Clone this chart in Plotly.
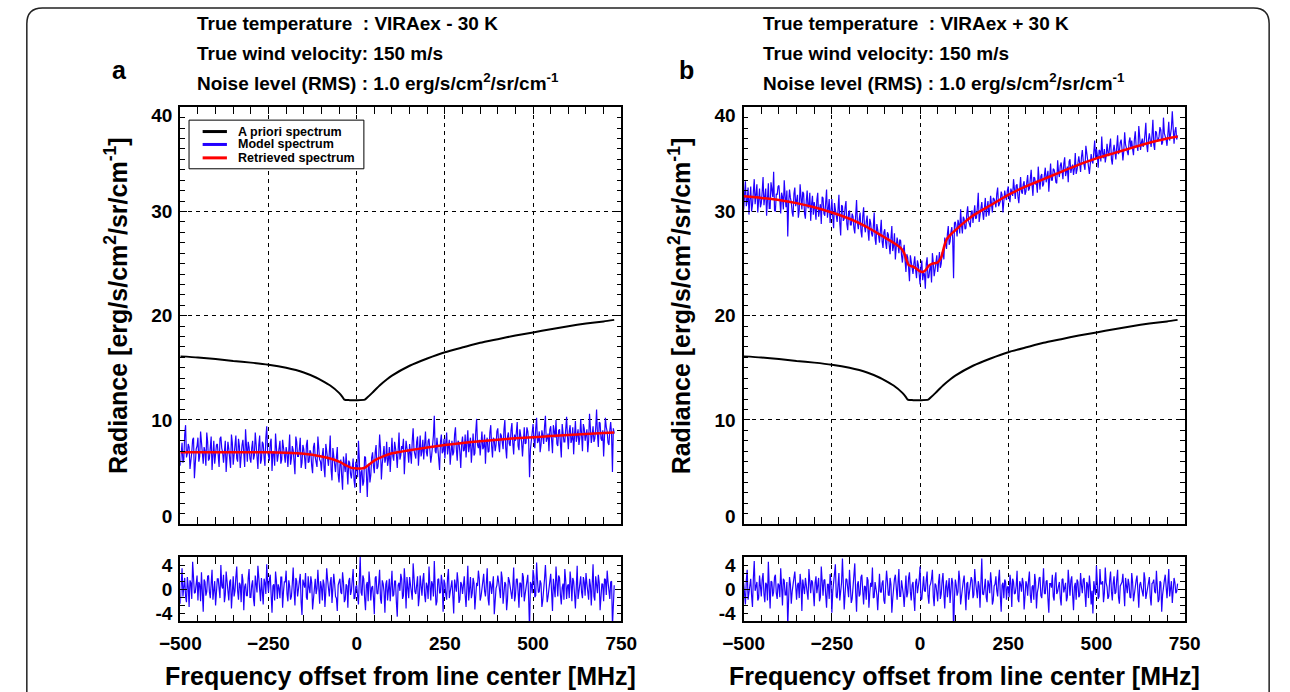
import plotly.graph_objects as go

# ---------------- data ----------------
freq_even = list(range(-500, 731, 5))                 # -500 ... 730 MHz
freq_odd = [f + 2.5 for f in range(-500, 730, 5)]     # -497.5 ... 727.5 MHz

apriori_x = [-500, -450, -400, -350, -300, -250, -200, -150, -114, -100, -75, -50, -40, -35, -20, 0, 23, 30, 44,
             65, 86, 100, 150, 200, 250, 305, 350, 400, 450, 500, 550, 600, 650, 700, 730]
apriori_y = [16.1, 16.0, 15.85, 15.65, 15.5, 15.3, 15.0, 14.55, 14.05, 13.8, 13.3, 12.6, 12.2, 11.95, 11.9, 11.9,
             11.95, 12.15, 12.6, 13.3, 13.9, 14.25, 15.2, 15.9, 16.5, 17.0, 17.4, 17.75, 18.1, 18.4, 18.7, 19.0,
             19.25, 19.45, 19.6]

retrieved_a_x = [-500, -400, -300, -250, -200, -150, -100, -75, -50, -30, -15, 0, 15, 25, 40, 50, 75, 100, 150,
                 200, 250, 300, 350, 400, 450, 500, 550, 600, 650, 700, 730]
retrieved_a_y = [6.9, 6.9, 6.9, 6.9, 6.85, 6.75, 6.5, 6.3, 6.0, 5.65, 5.4, 5.35, 5.35, 5.45, 5.85, 6.1, 6.5, 6.8,
                 7.1, 7.35, 7.6, 7.8, 7.95, 8.1, 8.25, 8.35, 8.45, 8.55, 8.65, 8.75, 8.8]

retrieved_b_x = [-500, -450, -400, -350, -300, -250, -200, -150, -120, -100, -75, -55, -45, -38, -32, -20, -10, 0,
                 8, 15, 25, 35, 50, 60, 68, 75, 90, 100, 127, 150, 200, 250, 300, 350, 400, 450, 500, 550, 600,
                 650, 700, 730]
retrieved_b_y = [31.45, 31.3, 31.1, 30.8, 30.4, 29.9, 29.3, 28.5, 27.9, 27.5, 27.0, 26.5, 26.0, 25.3, 24.85, 24.7,
                 24.5, 24.25, 24.2, 24.35, 24.8, 25.0, 25.1, 25.6, 26.6, 27.3, 27.9, 28.2, 29.0, 29.6, 30.6, 31.6,
                 32.4, 33.1, 33.8, 34.5, 35.1, 35.6, 36.1, 36.6, 37.0, 37.2]

model_a_even = [
    5.6, 7.8, 6.2, 9.5, 6.8, 7.4, 5.9, 8.1, 4.4, 7.2,
    8.3, 6.5, 7.9, 5.8, 7.0, 8.8, 6.1, 7.5, 5.2, 8.0,
    6.6, 7.7, 5.5, 8.4, 6.9, 7.3, 5.0, 7.9, 6.4, 8.6,
    5.7, 7.1, 6.3, 8.2, 5.4, 7.6, 6.8, 9.1, 6.0, 7.4,
    5.9, 8.0, 6.6, 7.2, 5.3, 8.5, 6.2, 7.7, 5.6, 9.4,
    6.4, 7.8, 5.1, 7.0, 8.7, 6.0, 7.5, 5.8, 8.1, 6.7,
    7.4, 5.5, 8.6, 6.3, 7.1, 4.8, 7.9, 6.5, 8.3, 5.9,
    7.2, 5.3, 8.1, 6.0, 6.9, 4.9, 7.8, 5.7, 8.4, 6.2,
    5.1, 7.3, 4.5, 6.8, 5.6, 8.5, 4.2, 6.6, 5.0, 7.4,
    4.0, 6.2, 3.3, 5.5, 6.8, 3.8, 5.9, 4.4, 6.3, 3.5,
    5.6, 8.0, 3.0, 5.2, 4.1, 6.4, 2.6, 5.8, 4.7, 6.9,
    4.9, 7.6, 5.5, 8.6, 4.3, 6.8, 5.9, 7.9, 6.2, 5.0,
    8.3, 6.1, 7.4, 5.4, 8.8, 6.6, 7.2, 4.8, 8.0, 6.9,
    7.7, 5.8, 9.2, 6.4, 7.9, 5.6, 8.5, 7.0, 6.2, 8.9,
    6.5, 8.2, 5.9, 7.6, 10.4, 6.8, 7.3, 5.2, 8.6, 7.0,
    6.3, 8.8, 7.2, 5.7, 8.0, 6.9, 9.3, 6.1, 7.8, 5.4,
    8.4, 7.1, 6.4, 9.0, 7.5, 5.9, 8.7, 6.8, 10.1, 7.3,
    6.6, 8.9, 7.4, 5.8, 8.3, 7.0, 9.5, 6.4, 8.1, 7.6,
    9.2, 6.9, 8.5, 7.2, 10.0, 6.3, 8.8, 7.5, 9.7, 6.7,
    8.0, 9.8, 7.1, 8.6, 6.5, 9.3, 7.8, 8.9, 4.5, 8.2,
    9.6, 7.3, 10.2, 8.0, 6.9, 9.0, 7.7, 10.4, 8.3, 7.0,
    9.4, 6.8, 8.7, 10.0, 7.5, 9.1, 6.4, 8.8, 7.9, 10.3,
    7.2, 9.5, 8.1, 6.7, 9.9, 8.4, 7.6, 10.1, 7.0, 9.2,
    8.5, 6.9, 10.6, 7.8, 9.4, 8.2, 11.0, 7.4, 9.7, 8.0,
    6.5, 10.2, 8.9, 7.6, 9.8, 5.0, 8.7]
model_a_odd = [
    7.1, 5.9, 8.6, 6.4, 7.7, 5.3, 6.9, 8.3, 6.2, 7.5,
    6.0, 8.9, 6.7, 7.4, 5.6, 7.9, 6.3, 8.4, 7.0, 5.8,
    7.6, 6.1, 8.2, 7.3, 5.9, 8.0, 6.6, 7.2, 5.4, 7.8,
    6.9, 8.5, 6.0, 7.5, 6.7, 8.1, 5.5, 7.0, 7.9, 6.3,
    7.3, 6.2, 8.8, 6.5, 7.6, 5.8, 7.9, 6.4, 8.3, 7.0,
    6.1, 8.2, 6.9, 5.6, 7.7, 6.6, 8.0, 6.2, 7.2, 5.9,
    6.8, 7.8, 5.7, 7.5, 6.0, 8.4, 6.5, 7.2, 5.4, 7.6,
    6.3, 7.6, 5.9, 7.1, 5.6, 7.4, 6.4, 5.5, 7.0, 6.0,
    6.6, 5.4, 7.7, 5.9, 6.9, 5.2, 7.3, 5.8, 6.4, 4.8,
    5.7, 4.6, 6.5, 5.0, 4.3, 6.1, 4.8, 5.4, 4.2, 6.0,
    4.5, 6.2, 5.0, 3.7, 6.5, 4.9, 5.3, 4.0, 6.4, 5.6,
    6.9, 5.3, 6.4, 7.3, 5.8, 7.5, 6.3, 5.6, 7.4, 6.7,
    6.5, 7.9, 6.7, 8.1, 6.2, 7.5, 8.2, 6.6, 7.3, 5.9,
    6.8, 8.0, 7.1, 6.3, 8.4, 7.3, 6.5, 8.1, 7.6, 6.9,
    8.0, 7.1, 6.6, 8.5, 7.0, 8.3, 6.5, 7.9, 6.8, 8.2,
    7.8, 6.7, 8.1, 7.4, 6.6, 8.6, 7.2, 8.0, 6.9, 7.7,
    7.0, 8.6, 7.8, 6.9, 8.3, 7.4, 6.6, 8.9, 7.6, 8.1,
    7.7, 7.2, 8.6, 7.9, 6.9, 8.8, 7.5, 8.3, 7.0, 8.9,
    7.6, 8.7, 7.9, 9.1, 7.3, 8.4, 7.7, 9.0, 7.8, 8.6,
    8.8, 7.5, 9.1, 7.9, 8.7, 7.7, 9.3, 8.0, 7.2, 9.0,
    8.1, 9.2, 7.8, 8.9, 7.6, 8.5, 9.4, 7.9, 8.7, 9.1,
    8.0, 9.5, 8.3, 7.7, 9.0, 8.1, 9.6, 7.9, 8.9, 8.4,
    8.9, 7.8, 9.3, 8.5, 7.9, 9.1, 8.3, 8.8, 9.6, 8.0,
    9.1, 8.0, 9.4, 8.5, 7.9, 9.2, 8.6, 9.8, 8.2, 9.0,
    8.4, 9.3, 7.8, 9.0, 8.6, 9.2]

resid_a_even = [
    -1.8, 2.6, 0.4, -0.9, 1.5, -2.2, 0.8, 3.4, -0.5, 1.2,
    -1.4, 0.6, 2.1, -2.8, 0.9, -0.3, 1.7, -1.1, 2.4, 0.2,
    -2.0, 1.3, -0.7, 3.0, 0.1, -1.6, 2.2, -0.4, 0.9, -2.4,
    1.6, -0.2, 2.8, -1.3, 0.5, 1.9, -2.6, 0.7, -0.8, 2.5,
    -1.0, 1.1, -2.1, 0.3, 2.9, -0.6, 1.4, -1.9, 0.8, 3.1,
    -0.4, 1.8, -2.9, 0.6, 2.2, -1.2, 0.1, 1.5, -2.3, 0.9,
    2.3, -1.5, 0.4, -0.9, 2.7, -2.0, 1.0, -0.1, 1.9, -3.2,
    0.7, 2.0, -1.3, 0.2, 1.6, -2.5, 0.9, -0.6, 2.4, -1.8,
    0.3, 1.2, -2.2, 2.6, -0.5, 0.8, -1.7, 1.9, -0.9, -2.7,
    1.0, -0.4, 2.1, -1.6, 0.6, -2.3, 1.4, -0.2, 2.5, -1.1,
    0.5, -1.9, 4.0, -0.8, 1.3, -2.6, 0.9, 2.2, -1.4, 0.4,
    -3.1, 1.6, -0.6, 2.4, -1.8, 0.7, -2.9, 1.1, 0.2, -1.5,
    2.3, -0.7, 1.0, -3.4, 0.8, 1.9, -1.2, 2.6, -2.4, 0.3,
    1.5, -1.0, 3.2, -0.3, 0.9, -2.1, 1.7, -0.8, 2.0, -1.6,
    0.4, 2.8, -1.4, 0.6, 3.5, -2.0, 1.2, -0.5, 1.8, -2.8,
    0.7, -1.3, 2.5, -0.2, 1.1, -3.0, 0.5, 2.1, -1.7, 0.9,
    -0.6, 1.6, -2.2, 2.9, 0.2, -1.1, 1.4, -2.5, 0.8, 2.3,
    -1.4, 0.3, 1.9, -0.9, 2.6, -2.0, 0.6, 1.2, -3.1, 0.1,
    1.7, -0.5, 2.2, -1.8, 0.9, -2.6, 1.5, 0.4, -1.2, 2.7,
    -0.8, 1.3, -2.3, 0.7, 2.0, -1.5, 0.2, 1.8, -5.0, 0.6,
    2.4, -1.0, 3.3, -0.4, 1.1, -2.2, 0.8, 3.0, -1.6, 0.5,
    1.9, -2.7, 0.3, 2.8, -0.9, 1.4, -1.9, 0.7, 2.5, -1.2,
    0.6, 2.2, -1.5, 1.0, -2.4, 2.9, -0.3, 1.6, -1.1, 0.9,
    2.0, -0.8, 1.3, -2.0, 3.1, -1.4, 0.4, 1.8, -2.6, 0.7,
    -1.5, 1.2, 2.3, -0.6, 0.9, -4.6, 0.5]
resid_a_odd = [
    0.6, -0.9, 1.4, -1.6, 0.3, 1.1, -1.2, 0.8, -0.4, 1.7,
    0.9, -1.5, 0.2, 1.2, -0.8, 1.6, -0.3, 0.7, -1.3, 1.0,
    -0.5, 1.3, -1.1, 0.4, 1.8, -0.7, 0.6, -1.4, 1.2, 0.1,
    -0.9, 1.5, -0.2, 0.8, -1.6, 1.1, 0.3, -0.8, 1.4, -1.0,
    0.5, -1.2, 1.7, -0.4, 0.9, -1.5, 0.2, 1.3, -0.6, 0.8,
    1.2, -0.7, 0.4, -1.4, 1.0, 0.6, -1.1, 1.5, -0.3, 0.9,
    -0.6, 1.1, -1.3, 0.7, -0.2, 1.4, -0.9, 0.5, -1.6, 1.2,
    0.2, -1.0, 1.6, -0.5, 0.8, -1.2, 1.3, 0.1, -0.8, 1.0,
    -1.4, 0.6, -0.3, 1.2, -0.9, 1.5, -0.4, 0.7, -1.1, 0.5,
    1.3, -0.6, 0.9, -1.3, 0.4, 1.0, -0.7, 1.6, -1.2, 0.3,
    -0.8, 1.2, -0.4, 1.7, -1.1, 0.5, -1.5, 0.8, 0.2, -1.0,
    1.4, -0.5, 0.8, -1.2, 1.1, -0.3, 0.6, -1.4, 1.3, 0.4,
    -0.9, 1.0, -1.6, 0.5, -0.2, 1.3, -0.8, 0.7, 1.5, -1.1,
    0.3, -1.3, 0.9, -0.6, 1.6, -1.0, 0.4, 1.1, -0.7, 0.8,
    -1.2, 0.6, 1.0, -0.9, 0.2, -1.5, 1.3, -0.4, 0.7, 1.2,
    -0.6, 1.4, -1.1, 0.5, -0.8, 1.2, -0.3, 0.9, -1.3, 0.6,
    1.1, -0.7, 0.3, -1.4, 1.5, -0.5, 0.8, -1.0, 0.4, 1.3,
    -0.9, 1.2, -0.2, 0.7, -1.2, 1.0, -0.6, 1.6, -0.8, 0.5,
    0.9, -1.1, 1.4, -0.4, 0.6, -1.3, 1.1, -0.7, 0.3, -1.5,
    1.2, -0.3, 0.8, -1.0, 1.5, -0.6, 0.4, -1.2, 0.9, -0.5,
    1.6, -0.8, 1.1, -0.3, 0.7, -1.4, 1.3, 0.5, -0.9, 1.0,
    -0.5, 1.3, -1.0, 0.6, 1.7, -0.7, 0.2, -1.3, 1.1, 0.4,
    -1.1, 0.9, 1.4, -0.6, 0.3, -1.2, 1.0, -0.4, 1.5, -0.8,
    0.7, -1.3, 0.5, 1.2, -0.9, 1.6, -0.5, 0.8, -1.1, 0.6,
    1.3, -0.7, 0.9, -1.2, 1.0, -0.4]

model_b_even = [
    30.2, 32.9, 31.0, 29.7, 32.4, 30.6, 33.1, 31.5, 29.9, 32.2,
    30.8, 33.3, 31.2, 29.6, 32.7, 30.3, 31.9, 33.8, 30.0, 31.6,
    32.5, 29.8, 31.4, 33.0, 30.4, 27.6, 32.1, 30.9, 29.5, 32.3,
    31.0, 29.4, 32.6, 30.2, 31.7, 29.3, 32.0, 30.6, 29.1, 31.5,
    30.9, 29.2, 31.8, 30.1, 28.8, 31.3, 29.6, 32.1, 30.4, 28.9,
    31.2, 28.4, 30.3, 29.0, 31.6, 27.7, 30.5, 29.3, 31.0, 28.2,
    30.1, 28.7, 29.5, 27.9, 31.1, 28.3, 29.9, 27.5, 30.4, 28.0,
    29.6, 27.2, 28.9, 27.6, 29.9, 26.8, 28.4, 27.0, 29.2, 26.5,
    28.3, 26.4, 27.8, 25.9, 28.6, 26.7, 25.4, 27.5, 26.0, 27.2,
    25.1, 26.8, 24.2, 25.6, 23.3, 25.2, 24.0, 25.7, 23.6, 24.9,
    23.0, 25.3, 24.1, 22.6, 25.6, 23.7, 24.9, 26.0, 23.8, 25.4,
    24.2, 26.1, 25.0, 26.3, 27.5, 26.4, 28.6, 27.1, 28.5, 23.6,
    29.0, 27.6, 28.8, 30.2, 27.9, 29.3, 28.4, 30.5, 28.7, 29.9,
    28.9, 30.6, 29.4, 31.8, 29.8, 30.9, 29.2, 31.3, 30.1, 29.6,
    31.5, 29.9, 31.2, 30.4, 32.3, 30.7, 31.9, 29.9, 32.0, 31.1,
    32.4, 30.9, 31.8, 33.1, 31.2, 32.6, 30.8, 33.3, 31.7, 32.9,
    31.9, 33.5, 32.2, 34.0, 31.5, 33.2, 32.7, 34.3, 32.1, 33.6,
    32.6, 34.2, 33.4, 31.9, 34.6, 33.0, 34.0, 32.8, 34.9, 33.3,
    34.7, 33.1, 35.2, 33.9, 32.8, 35.0, 34.2, 33.5, 35.6, 34.0,
    35.3, 33.8, 35.9, 34.4, 36.3, 34.9, 33.6, 35.5, 34.6, 36.8,
    36.0, 34.2, 35.8, 37.2, 35.1, 34.7, 36.5, 35.3, 37.0, 34.5,
    36.4, 35.0, 37.3, 35.8, 36.9, 34.9, 37.6, 36.1, 35.4, 37.1,
    36.8, 35.4, 37.7, 36.3, 38.2, 35.9, 37.0, 36.6, 38.5, 35.7,
    37.5, 36.2, 38.8, 35.9, 37.6, 36.8, 38.1, 36.4, 39.0, 37.2,
    36.3, 38.6, 37.4, 39.6, 36.5, 38.1, 37.3]
model_b_odd = [
    31.7, 30.5, 32.3, 31.1, 30.0, 31.9, 30.7, 32.6, 31.3, 30.4,
    31.9, 30.6, 32.2, 31.0, 30.3, 32.8, 31.4, 30.1, 31.7, 32.4,
    30.6, 31.8, 30.2, 31.5, 32.0, 30.8, 31.3, 29.9, 31.7, 30.5,
    31.6, 30.1, 30.9, 31.9, 29.8, 31.0, 30.3, 31.8, 30.7, 29.7,
    30.2, 31.1, 29.5, 30.7, 31.4, 29.8, 30.6, 29.4, 31.2, 30.0,
    29.5, 30.8, 29.7, 30.2, 28.9, 30.6, 29.1, 30.4, 28.8, 29.9,
    28.7, 29.8, 28.4, 29.6, 28.9, 29.2, 28.1, 29.5, 28.6, 29.0,
    28.1, 29.3, 27.9, 28.5, 27.4, 28.8, 27.7, 28.2, 27.1, 28.0,
    27.0, 28.0, 26.8, 27.4, 26.2, 27.9, 26.6, 26.9, 27.3, 25.8,
    26.2, 25.3, 25.9, 24.6, 25.8, 24.1, 25.0, 24.4, 25.3, 24.0,
    24.6, 23.4, 24.0, 25.0, 23.6, 24.5, 23.2, 25.1, 24.4, 25.8,
    25.5, 24.6, 26.0, 25.4, 26.9, 27.8, 26.8, 28.0, 27.4, 28.9,
    28.4, 29.2, 27.9, 28.7, 29.5, 28.3, 29.8, 29.1, 28.5, 30.1,
    30.0, 29.3, 30.4, 29.0, 30.7, 29.9, 30.3, 29.5, 31.0, 30.2,
    30.4, 31.3, 30.9, 31.7, 30.5, 31.0, 31.6, 30.8, 31.4, 32.0,
    31.3, 32.2, 31.5, 32.0, 32.5, 31.4, 32.1, 31.9, 32.6, 31.6,
    32.8, 32.0, 33.1, 32.5, 33.3, 32.6, 31.8, 33.0, 33.4, 32.4,
    33.5, 32.8, 33.9, 33.2, 33.0, 34.1, 33.6, 32.7, 33.8, 34.4,
    33.9, 34.6, 33.4, 34.3, 34.8, 33.7, 34.5, 34.1, 33.6, 34.9,
    34.6, 35.2, 34.9, 34.0, 35.4, 34.3, 35.1, 34.8, 35.7, 35.0,
    35.4, 35.9, 34.8, 35.6, 36.0, 35.3, 35.7, 36.3, 35.0, 35.8,
    35.7, 36.2, 35.5, 36.6, 36.0, 35.8, 36.4, 35.6, 36.7, 36.1,
    36.0, 36.9, 36.3, 35.8, 37.2, 36.6, 36.2, 37.4, 36.4, 36.9,
    36.8, 37.3, 36.4, 37.7, 36.9, 37.2, 37.8, 36.6, 37.5, 36.9,
    37.4, 36.8, 38.0, 37.2, 37.7, 36.9]

resid_b_even = [
    0.8, -1.9, 2.4, -0.6, 1.3, -2.2, 3.5, 0.4, -1.4, 1.7,
    -0.9, 2.0, -1.6, 0.6, 3.4, -2.4, 0.9, -0.3, 1.8, -1.2,
    0.5, 2.6, -2.0, 1.1, -0.7, -4.5, 1.5, -1.8, 0.3, 2.2,
    -1.3, 0.8, 1.9, -2.7, 0.4, 1.4, -1.0, 2.5, -0.5, 0.9,
    -2.1, 1.6, 0.2, -1.5, 2.8, -0.8, 1.2, -2.3, 0.6, 1.9,
    -2.9, 0.7, 3.1, -1.1, 2.0, -0.4, 3.8, -2.5, 1.3, -0.2,
    2.4, -1.7, 0.5, 3.2, -2.8, 1.0, -0.6, 1.8, -1.9, 0.3,
    1.5, -2.3, 0.8, 2.7, -1.0, 0.2, -2.6, 1.9, -0.4, 1.1,
    -1.8, 2.3, -0.7, 1.4, -2.9, 0.6, 1.8, -1.3, 2.5, -0.9,
    0.4, -2.2, 1.7, -0.5, 2.1, -1.4, 0.9, -2.7, 1.3, 0.1,
    2.8, -1.2, 1.6, -0.3, 2.2, -1.8, 0.7, 2.4, -2.1, 0.5,
    -1.5, 1.9, -0.6, 2.0, -2.4, 1.1, 0.3, -1.7, 1.4, -5.5,
    1.2, -0.8, 2.3, -1.9, 0.6, 1.7, -2.6, 0.9, -0.2, 1.5,
    -1.1, 2.5, -0.4, 1.0, -2.3, 3.8, -0.7, 1.3, -1.6, 0.6,
    2.1, -1.9, 0.4, 1.6, -0.9, 2.4, -2.8, 0.8, 1.2, -1.3,
    0.3, 1.8, -2.2, 0.9, -0.5, 2.3, -1.6, 0.6, 1.4, -2.5,
    1.0, -0.8, 2.2, -1.7, 0.5, 1.9, -2.4, 0.2, 1.5, -1.1,
    2.6, -0.6, 1.1, -2.9, 0.7, 1.8, -1.4, 2.1, -0.3, 0.9,
    -2.0, 1.3, 0.4, -1.5, 2.4, -0.8, 1.6, -2.6, 0.8, 1.2,
    -1.0, 2.0, -0.5, 1.4, -2.2, 0.6, 1.7, -1.9, -3.0, 0.4,
    2.9, -1.2, 2.5, 0.7, -1.6, 2.7, 0.3, -0.9, 2.2, -1.4,
    1.6, -0.4, 2.4, -1.8, 0.8, 1.9, -2.1, 0.5, 1.3, -1.0,
    2.0, -1.5, 0.6, 1.7, -2.3, 0.9, -0.6, 2.1, -1.2, 0.4,
    1.5, -2.0, 0.8, -0.3, 2.3, -1.6, 1.0, -2.8, 0.6, 1.8,
    -1.1, 2.5, 0.2, -1.7, 1.4, -0.5, 0.7]
resid_b_odd = [
    -0.4, 1.1, -1.3, 0.6, -0.8, 1.4, -0.2, 0.9, -1.1, 0.5,
    1.2, -0.6, 0.8, -1.4, 0.3, 1.0, -0.9, 1.5, -0.5, 0.7,
    -1.0, 0.4, 1.3, -0.7, 0.9, -1.2, 0.6, -0.3, 1.4, -0.8,
    0.5, -1.1, 0.7, 1.2, -0.6, 0.2, -1.3, 0.9, 1.1, -0.4,
    0.8, -0.5, 1.4, -1.0, 0.3, 1.1, -0.7, 0.6, -1.2, 0.9,
    -0.3, 1.3, -0.9, 0.5, -1.4, 0.8, 0.2, -0.6, 1.2, -1.0,
    0.7, -1.2, 1.0, -0.4, 0.6, -0.9, 1.5, -0.2, 0.4, -1.3,
    1.1, -0.5, 0.3, -1.1, 0.9, -0.7, 1.2, -0.3, 0.8, -1.4,
    0.4, 1.0, -0.8, 0.6, -1.2, 1.3, -0.4, 0.7, -0.9, 1.1,
    -0.6, 0.8, -1.0, 1.4, -0.3, 0.5, -1.1, 0.9, -0.5, 1.2,
    -1.3, 0.6, -0.2, 1.1, -0.8, 0.4, 1.3, -0.9, 0.7, -0.4,
    0.9, -1.2, 1.0, -0.5, 0.3, -1.0, 1.4, -0.6, 0.8, -1.1,
    0.5, -0.3, 1.2, -0.9, 1.0, -0.4, 0.7, -1.3, 0.6, 1.1,
    -0.7, 0.9, -1.1, 0.4, 1.3, -0.6, 0.2, -1.0, 1.1, -0.5,
    0.8, -1.4, 0.6, -0.2, 1.2, -0.8, 0.5, -1.1, 0.9, 0.3,
    -1.0, 0.7, 1.3, -0.6, 0.4, -1.2, 1.0, -0.3, 0.8, -0.9,
    0.6, 1.1, -0.7, 0.3, -1.3, 0.9, -0.4, 1.4, -0.8, 0.5,
    -0.5, 1.0, -1.2, 0.7, 0.2, -0.9, 1.3, -0.6, 0.4, -1.1,
    1.2, -0.4, 0.8, -1.0, 0.6, 1.1, -0.7, 0.3, -1.3, 0.9,
    -0.8, 0.5, 1.2, -0.6, 0.9, -1.1, 0.4, -0.2, 1.0, -0.7,
    1.3, -0.9, 0.6, 1.0, -0.5, 0.8, -1.2, 1.1, -0.3, 0.7,
    -0.6, 1.2, -1.0, 0.4, 0.9, -0.8, 1.4, -0.5, 0.6, -1.1,
    0.9, -0.4, 1.1, -1.2, 0.5, 0.2, -0.9, 1.3, -0.6, 1.0,
    -1.0, 0.7, 1.2, -0.5, 0.3, -1.3, 0.8, -0.7, 1.1, -0.2,
    0.6, -0.9, 1.0, -0.6, 0.8, -0.3]

x_ticks = [-500, -250, 0, 250, 500, 750]
main_tick_vals = [0, 10, 20, 30, 40]
resid_tick_vals = [-4, 0, 4]

headers_a = ["True temperature\u00a0\u00a0: VIRAex - 30 K", "True wind velocity: 150 m/s",
             "Noise level (RMS) : 1.0 erg/s/cm<sup>2</sup>/sr/cm<sup>-1</sup>"]
headers_b = ["True temperature\u00a0\u00a0: VIRAex + 30 K", "True wind velocity: 150 m/s",
             "Noise level (RMS) : 1.0 erg/s/cm<sup>2</sup>/sr/cm<sup>-1</sup>"]
legend_names = ["A priori spectrum", "Model spectrum", "Retrieved spectrum"]


def interleave(even, odd):
    out = []
    for i, v in enumerate(even):
        out.append(v)
        if i < len(odd):
            out.append(odd[i])
    return out


freq = interleave(freq_even, freq_odd)
model_a = interleave(model_a_even, model_a_odd)
resid_a = interleave(resid_a_even, resid_a_odd)
model_b = interleave(model_b_even, model_b_odd)
resid_b = interleave(resid_b_even, resid_b_odd)

# ---------------- styling / layout ----------------
W, H = 1290, 692
FONT = "Liberation Sans, Arial, sans-serif"
BLUE = "#2200ff"
RED = "#ff0000"
BLACK = "#000000"


def px(x):
    return x / W


def py(y):
    return 1 - y / H


fig = go.Figure()

panels = [
    dict(x="x", y="y", xr="x2", yr="y2", ret_x=retrieved_a_x, ret_y=retrieved_a_y, model=model_a, resid=resid_a,
         yl="y5", yrl="y6"),
    dict(x="x3", y="y3", xr="x4", yr="y4", ret_x=retrieved_b_x, ret_y=retrieved_b_y, model=model_b, resid=resid_b,
         yl="y7", yrl="y8"),
]

for p in panels:
    fig.add_trace(go.Scatter(x=apriori_x, y=apriori_y, mode="lines",
                             line=dict(color=BLACK, width=2, shape="spline", smoothing=0.6),
                             xaxis=p["x"], yaxis=p["y"], showlegend=False))
    fig.add_trace(go.Scatter(x=freq, y=p["model"], mode="lines", line=dict(color=BLUE, width=1.2),
                             xaxis=p["x"], yaxis=p["y"], showlegend=False))
    fig.add_trace(go.Scatter(x=p["ret_x"], y=p["ret_y"], mode="lines",
                             line=dict(color=RED, width=2.5, shape="spline", smoothing=0.5),
                             xaxis=p["x"], yaxis=p["y"], showlegend=False))
    fig.add_trace(go.Scatter(x=freq, y=p["resid"], mode="lines", line=dict(color=BLUE, width=1.2),
                             xaxis=p["xr"], yaxis=p["yr"], showlegend=False))
    # empty traces carrying the label-only overlay axes
    fig.add_trace(go.Scatter(x=[], y=[], xaxis=p["x"], yaxis=p["yl"], showlegend=False))
    fig.add_trace(go.Scatter(x=[], y=[], xaxis=p["xr"], yaxis=p["yrl"], showlegend=False))

tickfont = dict(family=FONT, size=19, color=BLACK, weight="bold")
dash = "4px,4px"


def xaxis_cfg(dom, anchor, labels):
    return dict(domain=dom, anchor=anchor, range=[-500, 750], tickvals=x_ticks, showticklabels=labels,
                tickfont=tickfont, ticks="inside", ticklen=7, tickcolor=BLACK, tickwidth=1,
                minor=dict(dtick=50, tick0=0, ticks="inside", ticklen=5, tickcolor=BLACK, showgrid=False),
                showgrid=True, gridcolor=BLACK, griddash=dash, gridwidth=1,
                showline=True, linecolor=BLACK, linewidth=1.5, mirror="allticks", zeroline=False,
                ticklabelstandoff=4)


def yaxis_cfg(dom, anchor, rng, dtick, grid):
    return dict(domain=dom, anchor=anchor, range=rng, dtick=dtick, tick0=0, showticklabels=False,
                ticks="inside", ticklen=7, tickcolor=BLACK, tickwidth=1,
                minor=dict(dtick=1, tick0=0, ticks="inside", ticklen=5, tickcolor=BLACK, showgrid=False),
                showgrid=grid, gridcolor=BLACK, griddash=dash, gridwidth=1,
                showline=True, linecolor=BLACK, linewidth=1.5, mirror="allticks", zeroline=False)


def label_axis(over, anchor, rng, vals, texts):
    return dict(overlaying=over, anchor=anchor, range=rng, tickvals=vals, ticktext=texts, showgrid=False,
                ticks="", showline=False, zeroline=False, tickfont=tickfont, side="left", ticklabelstandoff=7)


main_dom = [py(526), py(106)]
res_dom = [py(624), py(559)]
a_dom = [px(164), px(618)]
b_dom = [px(744), px(1198)]

main_label_pos = [0.75, 10, 20, 30, 39.25]
resid_label_pos = [-3.0, 0, 3.0]

fig.update_layout(
    width=W, height=H, margin=dict(l=0, r=0, t=0, b=0), autosize=False,
    paper_bgcolor="white", plot_bgcolor="white", showlegend=False,
    font=dict(family=FONT, color=BLACK),
    xaxis=xaxis_cfg(a_dom, "y", False),
    yaxis=yaxis_cfg(main_dom, "x", [0, 40], 10, True),
    xaxis2=xaxis_cfg(a_dom, "y2", True),
    yaxis2=yaxis_cfg(res_dom, "x2", [-4, 4], 4, False),
    xaxis3=xaxis_cfg(b_dom, "y3", False),
    yaxis3=yaxis_cfg(main_dom, "x3", [0, 40], 10, True),
    xaxis4=xaxis_cfg(b_dom, "y4", True),
    yaxis4=yaxis_cfg(res_dom, "x4", [-4, 4], 4, False),
    yaxis5=label_axis("y", "x", [0, 40], main_label_pos, [str(v) for v in main_tick_vals]),
    yaxis6=label_axis("y2", "x2", [-4, 4], resid_label_pos, [str(v) for v in resid_tick_vals]),
    yaxis7=label_axis("y3", "x3", [0, 40], main_label_pos, [str(v) for v in main_tick_vals]),
    yaxis8=label_axis("y4", "x4", [-4, 4], resid_label_pos, [str(v) for v in resid_tick_vals]),
)

ann = []
title_font = dict(family=FONT, size=25, color=BLACK, weight="bold")
head_font = dict(family=FONT, size=19, color=BLACK, weight="bold")
for (hx, letter, lx, headers, ytx, xtx) in [(179, "a", 101, headers_a, 98, 391),
                                            (762, "b", 685, headers_b, 678, 971)]:
    for text, hy in zip(headers, [22, 52, 81]):
        ann.append(dict(text=text, x=px(hx), y=py(hy), xref="paper", yref="paper", xanchor="left",
                        yanchor="middle", showarrow=False, font=head_font))
    ann.append(dict(text=letter, x=px(lx), y=py(68), xref="paper", yref="paper", xanchor="center",
                    yanchor="middle", showarrow=False, font=dict(family=FONT, size=25, color=BLACK, weight="bold")))
    ann.append(dict(text="Radiance [erg/s/cm<sup>2</sup>/sr/cm<sup>-1</sup>]", x=px(ytx), y=py(306),
                    xref="paper", yref="paper", xanchor="center", yanchor="middle", textangle=-90,
                    showarrow=False, font=title_font))
    ann.append(dict(text="Frequency offset from line center [MHz]", x=px(xtx), y=py(679), xref="paper",
                    yref="paper", xanchor="center", yanchor="middle", showarrow=False, font=title_font))

# legend (panel a)
shapes = [dict(type="rect", xref="paper", yref="paper", x0=px(173), x1=px(353), y0=py(168), y1=py(119),
               line=dict(color=BLACK, width=1), fillcolor="white", layer="above")]
leg_font = dict(family=FONT, size=12.5, color=BLACK, weight="bold")
for name, col, ly in zip(legend_names, [BLACK, BLUE, RED], [130.5, 143.5, 157]):
    shapes.append(dict(type="line", xref="paper", yref="paper", x0=px(187), x1=px(212), y0=py(ly), y1=py(ly),
                       line=dict(color=col, width=3), layer="above"))
    ann.append(dict(text=name, x=px(221), y=py(ly), xref="paper", yref="paper", xanchor="left", yanchor="middle",
                    showarrow=False, font=leg_font))

# rounded outer frame
r = 16
path = (f"M {px(6)},{py(700)} L {px(6)},{py(6 + r)} Q {px(6)},{py(6)} {px(6 + r)},{py(6)} "
        f"L {px(1285 - r)},{py(6)} Q {px(1285)},{py(6)} {px(1285)},{py(6 + r)} L {px(1285)},{py(700)}")
shapes.append(dict(type="path", xref="paper", yref="paper", path=path, line=dict(color="#222222", width=1.5)))

fig.update_layout(annotations=ann, shapes=shapes)

fig.write_html("out.html")
